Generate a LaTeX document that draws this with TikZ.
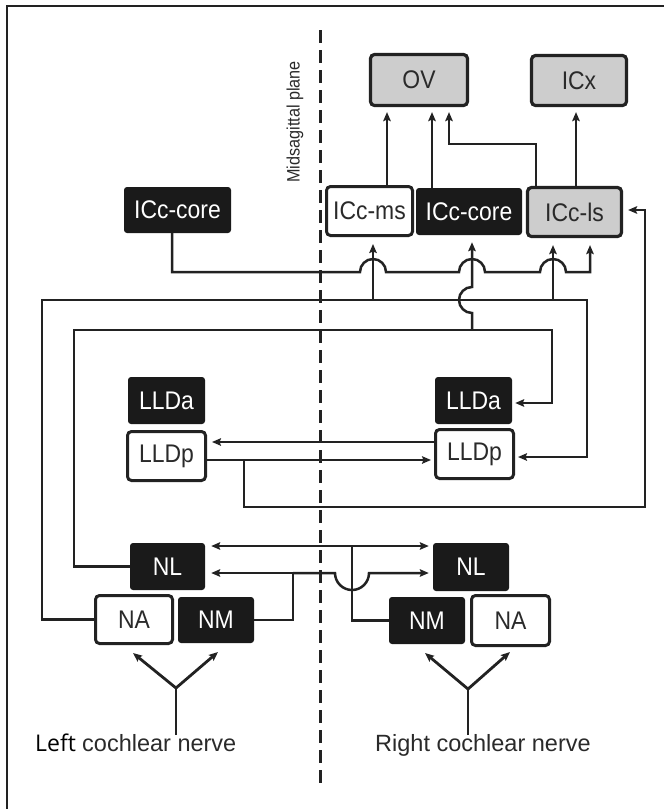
\documentclass[tikz,border=0pt]{standalone}
\usepackage{fontspec}
\setmainfont{Liberation Sans}
\newfontfamily\leftfont{Open Sans}
\newfontfamily\cond[FakeStretch=0.9]{Liberation Sans}
\usetikzlibrary{arrows.meta,calc}
\definecolor{ink}{HTML}{222222}
\definecolor{boxgray}{HTML}{CDCDCD}
\definecolor{boxblack}{HTML}{1A1A1A}
\definecolor{txt}{HTML}{2A2A2A}
\begin{document}
\begin{tikzpicture}[x=1pt,y=1pt,
  ln/.style={draw=ink, line width=2.5pt},
  tip/.style={-{Stealth[length=9pt,width=7.5pt,inset=1.5pt]}},
  arr/.style={ln, tip},
  darr/.style={ln, {Stealth[length=9pt,width=7.5pt,inset=1.5pt]}-{Stealth[length=9pt,width=7.5pt,inset=1.5pt]}},
  base/.style={rounded corners=4pt, inner sep=0pt, font=\cond\fontsize{25.5}{30}\selectfont},
  wbox/.style={base, draw=ink, line width=3pt, fill=white, text=txt},
  gbox/.style={base, draw=ink, line width=3.2pt, fill=boxgray, text=txt},
  bbox/.style={base, fill=boxblack, text=white, rounded corners=3pt},
  lbl/.style={text=txt, inner sep=0pt, font=\fontsize{23.5}{28}\selectfont},
]
\useasboundingbox (0,-809) rectangle (664,0);
% frame and midline
\draw[ink, line width=2pt] (7,-809) -- (7,-6) -- (664,-6);
\coordinate (midtop) at (320,-30);
\coordinate (midbot) at (320,-788);
\draw[ink, line width=3pt, dash pattern=on 13pt off 7pt] (midtop) -- (midbot);
\node[text=txt, rotate=90, inner sep=0pt, font=\cond\fontsize{18}{22}\selectfont] (mid) at (295,-122) {Midsagittal plane};

% boxes
\node[gbox, minimum width=97pt, minimum height=51pt] (OV) at (419,-80) {OV};
\node[gbox, minimum width=95pt, minimum height=50pt] (ICx) at (579,-80.5) {ICx};
\node[wbox, minimum width=86pt, minimum height=49pt] (ICcms) at (369.5,-211) {ICc-ms};
\node[bbox, minimum width=106pt, minimum height=47pt] (ICcoreR) at (469,-211.5) {ICc-core};
\node[gbox, minimum width=94pt, minimum height=49pt] (ICcls) at (574.5,-212) {ICc-ls};
\node[bbox, minimum width=107pt, minimum height=46pt] (ICcoreL) at (177.5,-210) {ICc-core};
\node[bbox, minimum width=77pt, minimum height=47pt] (LLDaL) at (166.5,-400.5) {LLDa};
\node[wbox, minimum width=78pt, minimum height=49pt] (LLDpL) at (166.5,-456) {LLDp};
\node[bbox, minimum width=77pt, minimum height=47pt] (LLDaR) at (473.5,-400.5) {LLDa};
\node[wbox, minimum width=78pt, minimum height=49pt] (LLDpR) at (474.5,-454) {LLDp};
\node[bbox, minimum width=75pt, minimum height=47pt] (NLL) at (167.5,-566.5) {NL};
\node[wbox, minimum width=77pt, minimum height=48pt] (NAL) at (134,-619.5) {NA};
\node[bbox, minimum width=76pt, minimum height=46pt] (NML) at (216,-620) {NM};
\node[bbox, minimum width=76pt, minimum height=48pt] (NLR) at (471,-567) {NL};
\node[bbox, minimum width=76pt, minimum height=47pt] (NMR) at (427,-620.5) {NM};
\node[wbox, minimum width=78pt, minimum height=50pt] (NAR) at (510.5,-620.5) {NA};

% junction coordinates
\coordinate (jA) at (373,-300);
\coordinate (jB) at (553,-300);
\coordinate (jC) at (472,-330);
\coordinate (jD) at (244,-460);
\coordinate (jE) at (293,-573);

% up to OV and ICx
\draw[arr, shorten >=5pt] (ICcms.north -| 387,0) -- (OV.south -| 387,0);
\draw[arr, shorten >=5pt] (ICcoreR.north -| 432,0) -- (OV.south -| 432,0);
\draw[arr, shorten >=5pt] (ICcls.north -| 536,0) |- (449,-144) -- (OV.south -| 449,0);
\draw[arr, shorten >=5pt] (ICcls.north -| 576,0) -- (ICx.south -| 576,0);

% left ICc-core to right ICc-ls (with jumps)
\draw[arr, shorten >=7pt] ([xshift=-5.5pt]ICcoreL.south) -- (172,-272) -- (360,-272)
  arc[start angle=180,end angle=0,radius=13pt] -- (459,-272)
  arc[start angle=180,end angle=0,radius=13pt] -- (540,-272)
  arc[start angle=180,end angle=0,radius=13pt] -- (590,-272) -- (ICcls.south -| 590,0);

% left NA projections
\draw[arr, shorten >=3pt] (NAL.west) -| (42,-300) -| (587,-457) -- (LLDpR.east |- 587,-457);
\draw[arr, shorten >=7pt] (jA) -- (ICcms.south -| jA);
\draw[arr, shorten >=7pt] (jB) -- (ICcls.south -| jB);

% left NL projections
\draw[arr, shorten >=3pt] (NLL.west) -| (74,-330) -| (552,-403) -- (LLDaR.east |- 552,-403);
\draw[arr, shorten >=7pt] (jC) -- (472,-313) arc[start angle=270,end angle=90,radius=13pt] -- (ICcoreR.south -| jC);

% LLDp connections
\draw[arr, shorten >=5pt] (LLDpR.west |- 0,-442) -- (LLDpL.east |- 0,-442);
\draw[arr, shorten >=3pt] (LLDpL.east |- 0,-460) -- (LLDpR.west |- 0,-460);
\draw[arr, shorten >=5pt] (jD) |- (645,-507) |- (ICcls.east |- 0,-210);

% NL connections
\draw[darr, shorten <=6pt, shorten >=4pt] (NLL.east |- 0,-546) -- (NLR.west |- 0,-546);
\draw[ln] (NMR.west) -| (352,-546);
\draw[ln] (NML.east) -| (jE);
\draw[arr, shorten >=6pt] (jE) -- (NLL.east |- jE);
\draw[arr, shorten >=4pt] (jE) -- (335,-573) arc[start angle=180,end angle=360,radius=17pt] -- (NLR.west |- jE);

% cochlear nerves
\coordinate (ylj) at (176,-688);
\coordinate (ylb) at (176,-735);
\coordinate (ylA) at (133,-653);
\coordinate (ylM) at (218,-652);
\draw[ln, line width=2.8pt] (ylb) -- (ylj);
\draw[arr, line width=2.8pt] (ylj) -- (ylA);
\draw[arr, line width=2.8pt] (ylj) -- (ylM);
\coordinate (yrj) at (468,-689);
\coordinate (yrb) at (468,-735);
\coordinate (yrM) at (425,-653);
\coordinate (yrA) at (510,-652);
\draw[ln, line width=2.8pt] (yrb) -- (yrj);
\draw[arr, line width=2.8pt] (yrj) -- (yrM);
\draw[arr, line width=2.8pt] (yrj) -- (yrA);

\node[anchor=base west, inner sep=0pt, text=black, font=\fontsize{23}{28}\selectfont\leftfont] (lleft) at (35,-751) {Left};
\node[lbl, anchor=base west] (lcn) at (82,-751) {cochlear nerve};
\node[lbl, anchor=base west] (rcn) at (375,-751.5) {Right cochlear nerve};
\end{tikzpicture}
\end{document}
